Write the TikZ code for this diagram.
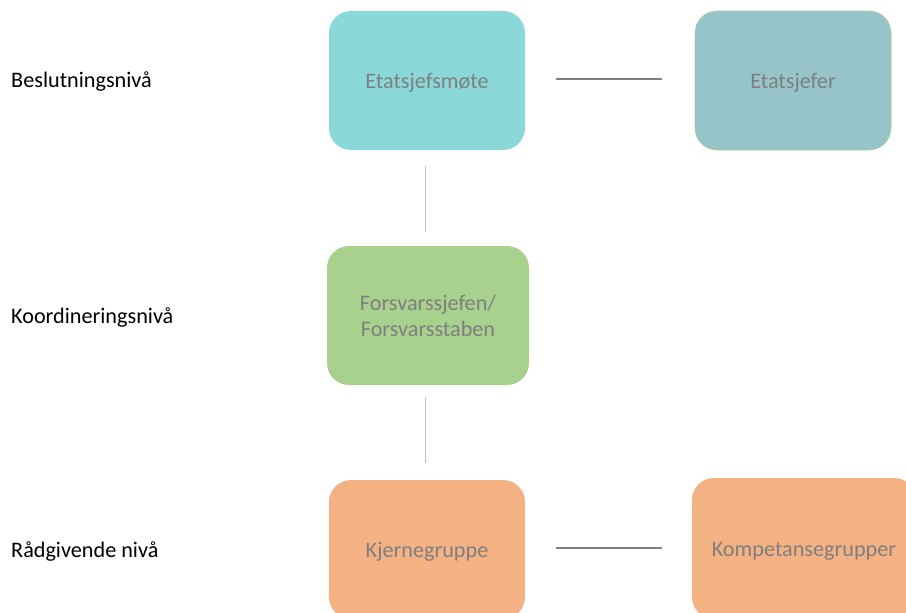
\documentclass[tikz,border=0pt]{standalone}
\usepackage{fontspec}
\setmainfont{Carlito}
\usepackage{xcolor}
\usetikzlibrary{positioning}
\definecolor{turkis}{HTML}{8AD8D8}
\definecolor{blaagraa}{HTML}{96C4C8}
\definecolor{groenn}{HTML}{A9D18E}
\definecolor{oransje}{HTML}{F4B183}
\definecolor{tekstgraa}{HTML}{7F7F7F}
\definecolor{linjegraa}{HTML}{808080}
\definecolor{lysgraa}{HTML}{C4C4C4}

\begin{document}
\begin{tikzpicture}[
x=1pt, y=-1pt,
font=\fontsize{22.2}{26}\selectfont,
boks/.style={rectangle, rounded corners=22pt, minimum width=196pt, minimum height=139pt,
  align=center, text=tekstgraa, inner sep=2pt},
enlinje/.style={text height=20pt, text depth=4.5pt},
nivaa/.style={anchor=west, text=black, inner sep=0pt},
hlinje/.style={draw=linjegraa, line width=1.2pt},
vlinje/.style={draw=lysgraa, line width=1.8pt}
]

% Rammen for bildet
\useasboundingbox (0,0) rectangle (906,613);
\clip (0,0) rectangle (906,613);

% Nivaaer til venstre
\node[nivaa] (beslutning) at (11,81.5) {Beslutningsnivå};
\node[nivaa] (koordinering) at (11,317.5) {Koordineringsnivå};
\node[nivaa] (raadgivende) at (11,551.5) {Rådgivende nivå};

% Bokser
\node[boks, enlinje, fill=turkis] (etatsjefsmote) at (427,80.5) {Etatsjefsmøte};
\node[boks, enlinje, fill=blaagraa, draw=groenn, line width=0.6pt] (etatsjefer) at (793,80.5) {Etatsjefer};
\node[boks, fill=groenn, minimum width=202pt, yshift=0pt] (forsvarssjefen) at (428,315.5) {Forsvarssjefen/\\Forsvarsstaben};
\node[boks, enlinje, fill=oransje] (kjernegruppe) at (427,549.5) {Kjernegruppe};
\node[boks, enlinje, fill=oransje, minimum width=224pt, minimum height=141pt] (kompetanse) at (804,548.5) {Kompetansegrupper};

% Linjer mellom boksene
\draw[hlinje, shorten <=31pt, shorten >=33pt] (etatsjefsmote.east |- 0,79) -- (etatsjefer.west |- 0,79);
\draw[vlinje, shorten <=16pt, shorten >=14pt] (etatsjefsmote.south -| 425.5,0) -- (forsvarssjefen.north -| 425.5,0);
\draw[vlinje, shorten <=12pt, shorten >=17pt] (forsvarssjefen.south -| 425.5,0) -- (kjernegruppe.north -| 425.5,0);
\draw[hlinje, shorten <=31pt, shorten >=30pt] (kjernegruppe.east |- 0,548) -- (kompetanse.west |- 0,548);

\end{tikzpicture}
\end{document}
